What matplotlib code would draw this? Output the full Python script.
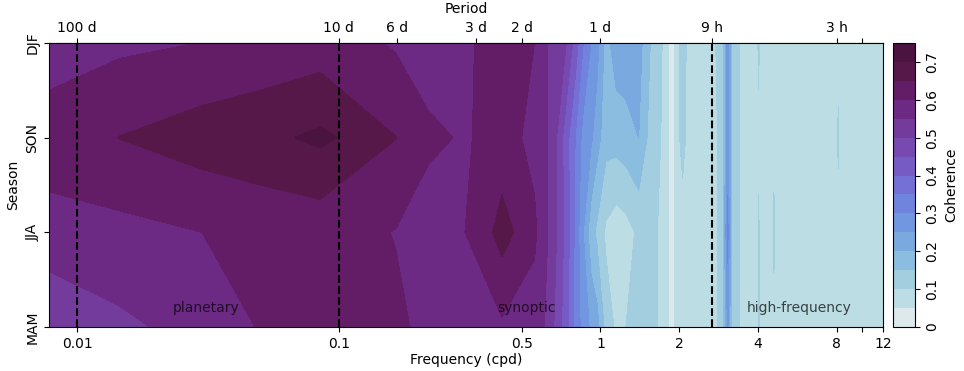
import numpy as np
import matplotlib
matplotlib.use("Agg")
import matplotlib.pyplot as plt
from matplotlib.colors import ListedColormap
from matplotlib.ticker import NullLocator, FixedLocator, FixedFormatter

# ---------------- data ----------------
seasons = ["MAM", "JJA", "SON", "DJF"]

freq = [0.0078125, 0.0145, 0.03, 0.05, 0.085, 0.165, 0.22, 0.30, 0.42, 0.56,
        0.63, 0.68, 0.74, 0.80, 0.86, 0.92, 0.97, 1.05, 1.15, 1.25,
        1.40, 1.55, 1.70, 1.83, 1.87, 1.91, 1.97, 2.06, 2.15, 2.40,
        2.67, 2.93, 3.06, 3.20, 3.60, 3.96, 4.02, 4.08, 4.52, 4.60,
        4.68, 7.95, 8.10, 8.25, 9.85, 10.0, 10.15, 12.0]

coh_djf = [0.58, 0.59, 0.601, 0.61, 0.623, 0.594, 0.575, 0.59, 0.63, 0.60,
           0.55, 0.52, 0.50, 0.43, 0.35, 0.30, 0.27, 0.18, 0.23, 0.23,
           0.22, 0.15, 0.11, 0.045, 0.03, 0.045, 0.09, 0.125, 0.09, 0.09,
           0.09, 0.12, 0.28, 0.12, 0.08, 0.08, 0.115, 0.08, 0.08, 0.08,
           0.08, 0.08, 0.08, 0.08, 0.08, 0.045, 0.08, 0.08]
coh_son = [0.62, 0.651, 0.675, 0.69, 0.71, 0.651, 0.61, 0.595, 0.62, 0.585,
           0.55, 0.50, 0.42, 0.35, 0.28, 0.26, 0.22, 0.17, 0.17, 0.18,
           0.20, 0.13, 0.10, 0.045, 0.03, 0.045, 0.09, 0.115, 0.09, 0.08,
           0.08, 0.12, 0.27, 0.12, 0.08, 0.08, 0.085, 0.08, 0.08, 0.08,
           0.08, 0.08, 0.11, 0.08, 0.08, 0.08, 0.08, 0.08]
coh_jja = [0.585, 0.585, 0.60, 0.61, 0.618, 0.598, 0.575, 0.598, 0.67, 0.61,
           0.55, 0.50, 0.43, 0.34, 0.25, 0.17, 0.14, 0.09, 0.07, 0.08,
           0.11, 0.12, 0.09, 0.045, 0.03, 0.045, 0.08, 0.08, 0.08, 0.08,
           0.08, 0.12, 0.32, 0.12, 0.08, 0.08, 0.11, 0.08, 0.08, 0.115,
           0.08, 0.08, 0.08, 0.08, 0.08, 0.045, 0.08, 0.08]
coh_mam = [0.50, 0.54, 0.575, 0.603, 0.62, 0.61, 0.585, 0.575, 0.592, 0.575,
           0.54, 0.48, 0.42, 0.33, 0.28, 0.24, 0.22, 0.13, 0.09, 0.10,
           0.13, 0.12, 0.09, 0.045, 0.03, 0.045, 0.08, 0.08, 0.08, 0.08,
           0.08, 0.12, 0.26, 0.12, 0.08, 0.08, 0.11, 0.08, 0.08, 0.08,
           0.08, 0.08, 0.08, 0.08, 0.08, 0.08, 0.08, 0.08]

levels = np.arange(0.0, 0.751, 0.05)
band_colors = ["#dde9ec", "#bcdde3", "#a2cee0", "#8bbde0", "#7aa9e0",
               "#7097df", "#7084dd", "#7570d6", "#775bc5", "#764ab0",
               "#733b9c", "#6d2a84", "#631c66", "#561848", "#4a1340"]

bottom_ticks = [0.01, 0.1, 0.5, 1, 2, 4, 8, 10, 12]
bottom_labels = ["0.01", "0.1", "0.5", "1", "2", "4", "8", "", "12"]
top_ticks = [0.01, 0.1, 1 / 6, 1 / 3, 0.5, 1, 24 / 9, 8, 10]
top_labels = ["100 d", "10 d", "6 d", "3 d", "2 d", "1 d", "9 h", "3 h", ""]
dashed_freqs = [0.01, 0.1, 24 / 9]
band_names = ["planetary", "synoptic", "high-frequency"]
band_pos = [0.0312, 0.52, 5.72]
cbar_ticks = [0.0, 0.1, 0.2, 0.3, 0.4, 0.5, 0.6, 0.7]
cbar_labels = ["0", "0.1", "0.2", "0.3", "0.4", "0.5", "0.6", "0.7"]

# ---------------- plot ----------------
fig = plt.figure(figsize=(9.64, 3.71), dpi=100)
ax = fig.add_axes([0.0508, 0.1186, 0.8651, 0.7655])
cax = fig.add_axes([0.9263, 0.1186, 0.0228, 0.7655])

Z = np.array([coh_mam, coh_jja, coh_son, coh_djf])
Y = np.arange(len(seasons))
cmap = ListedColormap(band_colors)
cf = ax.contourf(freq, Y, Z, levels=levels, cmap=cmap, vmin=0, vmax=0.75)

ax.set_xscale("log")
ax.set_xlim(freq[0], freq[-1])
ax.set_ylim(0, 3)

for f in dashed_freqs:
    ax.axvline(f, color="black", ls="--", lw=1.5)

ax.xaxis.set_major_locator(FixedLocator(bottom_ticks))
ax.xaxis.set_major_formatter(FixedFormatter(bottom_labels))
ax.xaxis.set_minor_locator(NullLocator())
ax.tick_params(axis="both", labelsize=10)
ax.set_xlabel("Frequency (cpd)", fontsize=10, labelpad=2)

ax.set_yticks(Y)
ax.set_yticklabels(seasons, rotation=90, va="center")
ax.set_ylabel("Season", fontsize=10)

top = ax.secondary_xaxis("top")
top.xaxis.set_major_locator(FixedLocator(top_ticks))
top.xaxis.set_major_formatter(FixedFormatter(top_labels))
top.xaxis.set_minor_locator(NullLocator())
top.tick_params(labelsize=10, pad=2)
top.set_xlabel("Period", fontsize=10, labelpad=6)

for name, pos in zip(band_names, band_pos):
    ax.text(pos, 0.2, name, ha="center", va="center", fontsize=10,
            color="black", alpha=0.7)

cb = fig.colorbar(cf, cax=cax, ticks=cbar_ticks)
cb.ax.set_yticklabels(cbar_labels, rotation=90, va="center")
cb.ax.tick_params(labelsize=10)
cb.set_label("Coherence", fontsize=10)

fig.savefig("out.png", dpi=100)
